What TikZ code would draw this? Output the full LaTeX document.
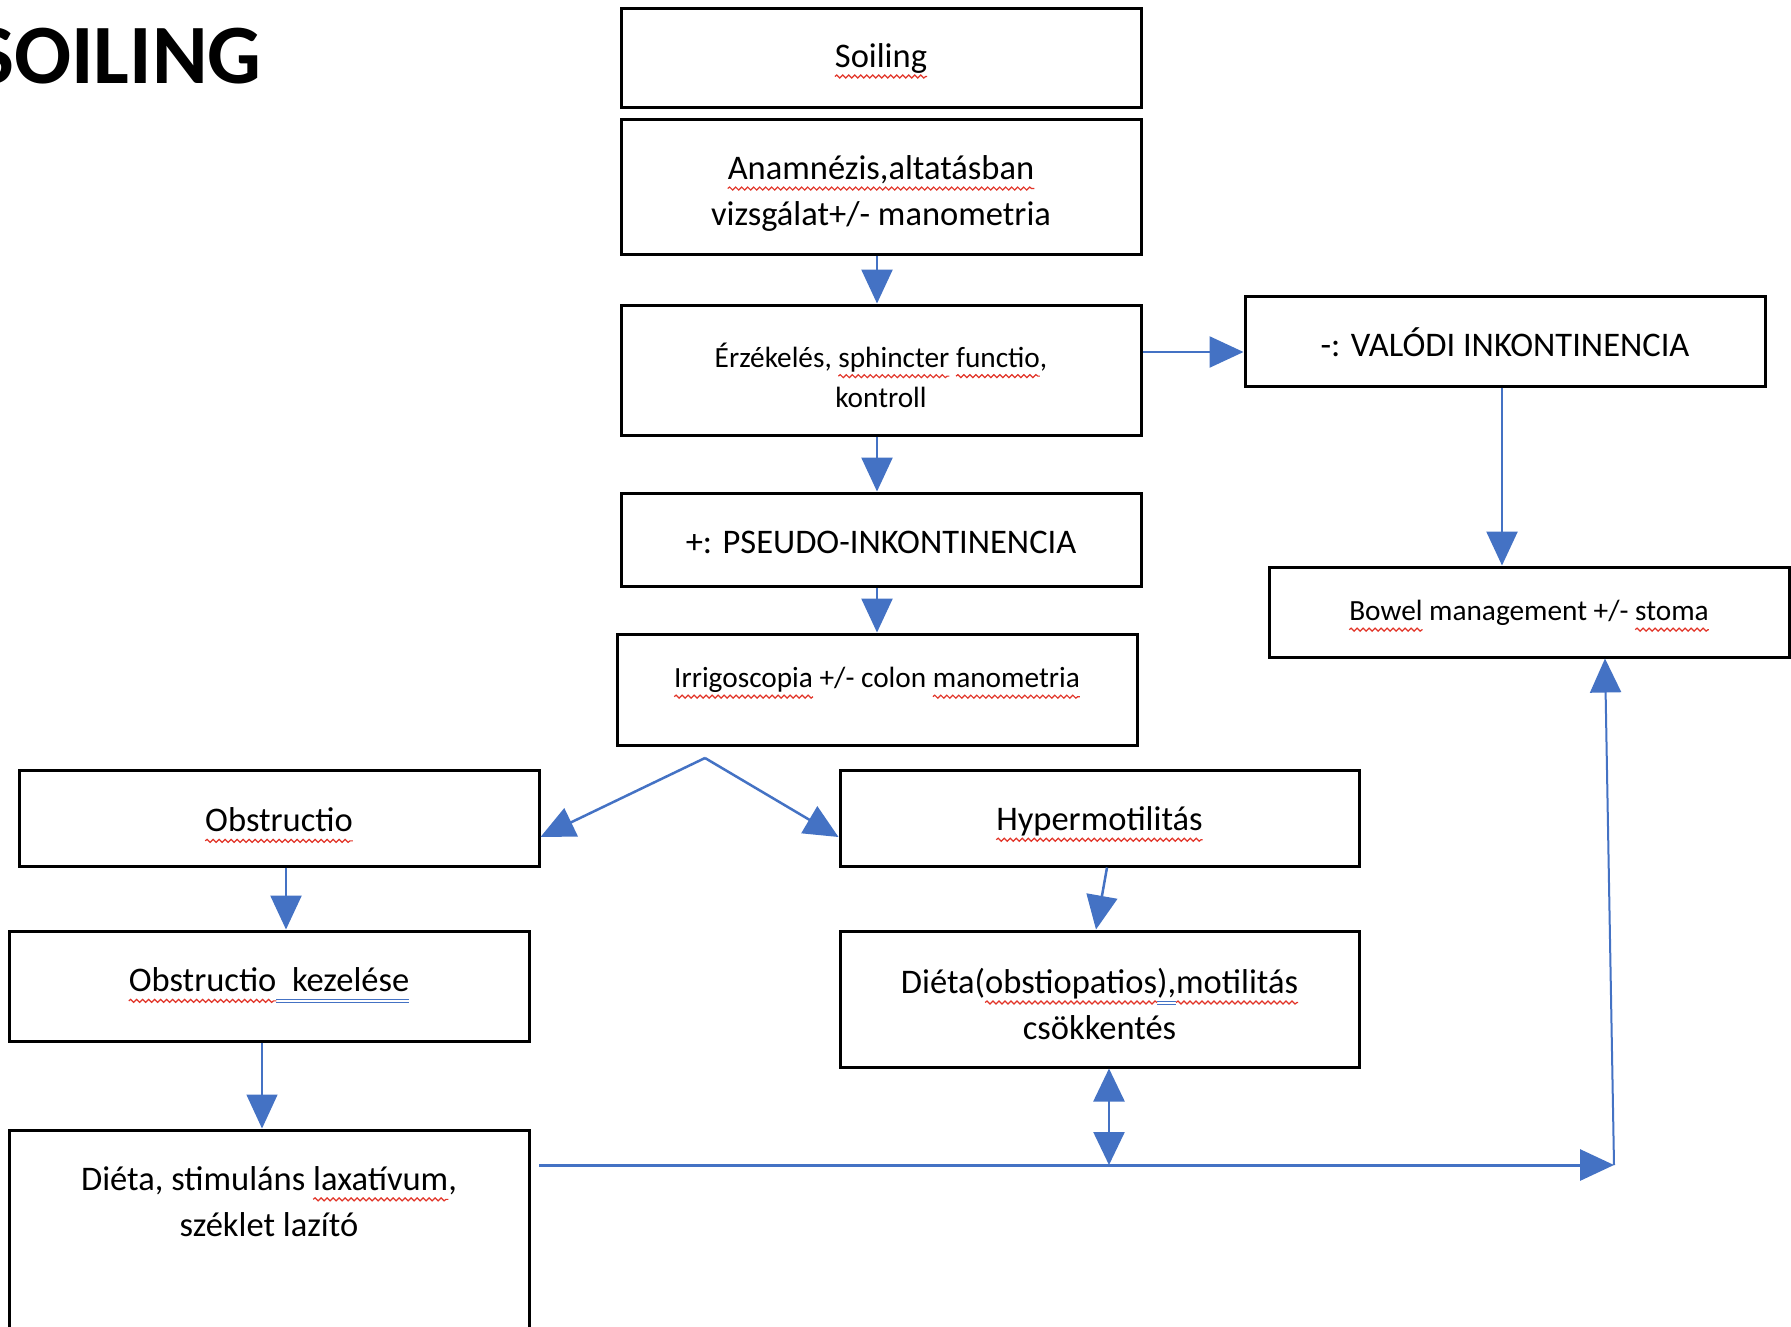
\documentclass[tikz,border=0pt]{standalone}
\usepackage{fontspec}
\setmainfont{Carlito}
\usetikzlibrary{arrows.meta,decorations.pathmorphing,calc}
\definecolor{arrblue}{RGB}{68,114,196}
\definecolor{wavered}{RGB}{226,52,40}
\definecolor{gramblue}{RGB}{68,114,196}
\newcommand\wavyul[1]{\tikz[baseline=(w.base)]{\node[inner sep=0pt,outer sep=0pt,minimum width=0pt,minimum height=0pt,draw=none,align=none] (w) {#1};\draw[overlay,draw=wavered,line width=1.2pt,decorate,decoration={snake,segment length=6pt,amplitude=1.5pt}] ([yshift=-9pt]w.base west) -- ([yshift=-9pt]w.base east);}}
\newcommand\dblul[1]{\tikz[baseline=(w.base)]{\node[inner sep=0pt,outer sep=0pt,minimum width=0pt,minimum height=0pt,draw=none,align=none] (w) {#1};\draw[overlay,draw=gramblue,line width=1pt] ([yshift=-8pt]w.base west) -- ([yshift=-8pt]w.base east) ([yshift=-11pt]w.base west) -- ([yshift=-11pt]w.base east);}}
\begin{document}
\begin{tikzpicture}[x=1pt,y=-1pt,
  box/.style={draw=black, line width=3pt, minimum width=520pt, inner sep=0pt},
  txt/.style={inner sep=0pt, align=center, text=black},
  big/.style={txt, font=\fontsize{34.5}{46}\selectfont},
  small/.style={txt, font=\fontsize{29.3}{40}\selectfont},
  conn/.style={draw=arrblue, line width=2.5pt, -{Triangle[length=34pt,width=31pt]}},
  dbl/.style={draw=arrblue, line width=2.5pt, {Triangle[length=33pt,width=31pt]}-{Triangle[length=33pt,width=31pt]}}
]
\clip (0,0) rectangle (1791,1326);
\fill[white] (0,0) rectangle (1791,1326);

\node[font=\fontsize{84.5}{100}\selectfont\bfseries, anchor=base west, inner sep=0pt] (title) at (-26,83) {SOILING};

% boxes
\node[box,minimum height=99pt] (soil) at (881,57.5) {};
\node[box,minimum height=135pt] (anam) at (881,186.5) {};
\node[box,minimum height=130pt] (erz) at (881,370) {};
\node[box,minimum height=90pt] (valodi) at (1505,341) {};
\node[box,minimum height=93pt] (pseudo) at (881,539.5) {};
\node[box,minimum height=90pt] (bowel) at (1529,612) {};
\node[box,minimum height=111pt] (irrig) at (877,689.5) {};
\node[box,minimum height=96pt] (obst) at (279,818) {};
\node[box,minimum width=519pt,minimum height=96pt] (hyper) at (1099.5,818) {};
\node[box,minimum height=110pt] (kez) at (269,986) {};
\node[box,minimum width=519pt,minimum height=136pt] (dieta1) at (1099.5,999) {};
\node[box,minimum height=200pt] (dieta2) at (269,1230) {};

% texts
\node[big] (soilt) at ([yshift=-1pt]soil.center) {\wavyul{Soiling}};
\node[big] (anamt) at ([yshift=-7pt]anam.center) {\wavyul{Anamnézis,altatásban}\\vizsgálat+/- manometria};
\node[small] (erzt) at ([yshift=-5pt]erz.center) {Érzékelés, \wavyul{sphincter} \wavyul{functio},\\kontroll};
\node[big] (valodit) at ([yshift=-1pt]valodi.center) {-: VALÓDI INKONTINENCIA};
\node[big] (pseudot) at ([yshift=-3pt]pseudo.center) {+: PSEUDO-INKONTINENCIA};
\node[small] (bowelt) at ([yshift=-1pt]bowel.center) {\wavyul{Bowel} management +/- \wavyul{stoma}};
\node[small] (irrigt) at ([yshift=9.5pt]irrig.center) {\wavyul{Irrigoscopia} +/- colon \wavyul{manometria}};
\node[big] (obstt) at ([yshift=-2pt]obst.center) {\wavyul{Obstructio}};
\node[big] (hypert) at ([yshift=-3.5pt]hyper.center) {\wavyul{Hypermotilitás}};
\node[big] (kezt) at ([yshift=6pt]kez.center) {\wavyul{Obstructio}\dblul{\ \ kezelése}};
\node[big] (dieta1t) at ([yshift=-5pt]dieta1.center) {Diéta(\wavyul{obstiopatios}\dblul{),}\wavyul{motilitás}\\csökkentés};
\node[big] (dieta2t) at ([yshift=-73pt]dieta2.north) {Diéta, stimuláns \wavyul{laxatívum},\\széklet lazító};

% connectors
\draw[conn] ([xshift=-4pt]anam.south) -- ([xshift=-4pt]erz.north);
\draw[conn] ([xshift=-4pt]erz.south) -- ([xshift=-4pt]pseudo.north);
\draw[conn] ([xshift=-4pt]pseudo.south) -- (irrig.north);
\draw[conn] ([yshift=18pt]erz.east) -- ([yshift=18pt]erz.east -| valodi.west);
\draw[conn] ([xshift=-3pt]valodi.south) -- ([xshift=-3pt]valodi.south |- bowel.north);

\coordinate (apex) at (705,758);
\draw[conn] (apex) -- ([yshift=-19pt]obst.east);
\draw[conn] (apex) -- ([yshift=-19pt]hyper.west);
\draw[conn] ([xshift=7pt]obst.south) -- ([xshift=7pt]obst.south |- kez.north);
\draw[conn] ([xshift=7.5pt]hyper.south) -- ([xshift=-3.5pt]dieta1.north);
\draw[conn,line width=1.5pt] ([xshift=-7pt]kez.south) -- ([xshift=-7pt]kez.south |- dieta2.north);

\coordinate (lstart) at (539,1165);
\coordinate (corner) at (1614,1165);
\coordinate (joint) at (1109,1165);
\draw[conn,line width=3pt] (lstart) -- (corner);
\draw[conn,line width=2pt] (corner) -- ([xshift=76pt]bowel.south);
\draw[dbl] ([xshift=9.5pt]dieta1.south) -- (joint);
\end{tikzpicture}
\end{document}
